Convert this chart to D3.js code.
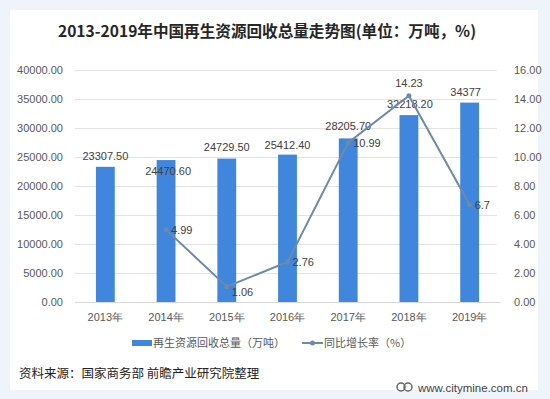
<!DOCTYPE html>
<html><head><meta charset="utf-8">
<script src="https://cdn.jsdelivr.net/npm/d3@7"></script>
<style>
html,body{margin:0;padding:0;background:#eef4fa;}
svg{display:block;font-family:"Noto Sans CJK SC","Microsoft YaHei",sans-serif;}
</style></head>
<body><svg id="c" width="550" height="399"></svg>
<script>
const years = ["2013年","2014年","2015年","2016年","2017年","2018年","2019年"];
const volume = [23307.50,24470.60,24729.50,25412.40,28205.70,32218.20,34377];
const volumeLabels = ["23307.50","24470.60","24729.50","25412.40","28205.70","32218.20","34377"];
const growth = [null,4.99,1.06,2.76,10.99,14.23,6.7];
const growthLabels = ["","4.99","1.06","2.76","10.99","14.23","6.7"];
const leftTicks = [0,5000,10000,15000,20000,25000,30000,35000,40000];
const rightTicks = [0,2,4,6,8,10,12,14,16];
const seriesNames = ["再生资源回收总量（万吨）","同比增长率（%）"];
const title = "2013-2019年中国再生资源回收总量走势图(单位：万吨，%)";
const source = "资料来源：国家商务部 前瞻产业研究院整理";
const site = "www.citymine.com.cn";

const svg = d3.select("#c");
svg.append("rect").attr("x",10).attr("y",10).attr("width",528).attr("height",380).attr("fill","#fff");

const x = d3.scaleBand().domain(years).range([75,500]).paddingInner(0.69).paddingOuter(0.345);
const yL = d3.scaleLinear().domain([0,40000]).range([302,70]);
const yR = d3.scaleLinear().domain([0,16]).range([302,70]);

svg.append("text").attr("x",267).attr("y",37).attr("text-anchor","middle")
  .attr("font-size",15.6).attr("font-weight","bold").attr("fill","#262626").text(title);

// gridlines
svg.append("g").selectAll("line").data(leftTicks).join("line")
  .attr("x1",75).attr("x2",497).attr("y1",d=>yL(d)+0.5).attr("y2",d=>yL(d)+0.5)
  .attr("stroke","#e3e3e3").attr("stroke-width",1);

// left axis
const gl = svg.append("g").attr("transform","translate(63,0)")
  .call(d3.axisLeft(yL).tickValues(leftTicks).tickFormat(d=>d3.format(".2f")(d)).tickSize(0).tickPadding(0));
gl.select(".domain").remove();
gl.selectAll("text").attr("font-size",11).attr("fill","#595959").attr("font-family","Liberation Sans, Arial, sans-serif");

// right axis
const gr = svg.append("g").attr("transform","translate(514,0)")
  .call(d3.axisRight(yR).tickValues(rightTicks).tickFormat(d=>d3.format(".2f")(d)).tickSize(0).tickPadding(0));
gr.select(".domain").remove();
gr.selectAll("text").attr("font-size",11).attr("fill","#595959").attr("font-family","Liberation Sans, Arial, sans-serif");

// x axis
const gx = svg.append("g").attr("transform","translate(0,302)")
  .call(d3.axisBottom(x).tickSize(0).tickPadding(11));
gx.select(".domain").attr("stroke","#d9d9d9");
gx.selectAll("text").attr("font-size",11).attr("fill","#595959");

// bars
svg.append("g").selectAll("rect").data(volume).join("rect")
  .attr("x",(d,i)=>x(years[i])).attr("width",x.bandwidth())
  .attr("y",d=>yL(d)).attr("height",d=>yL(0)-yL(d)).attr("fill","#3f86dc");

// bar labels
const blOff = [[0,-7],[2,15],[0,-8],[0,-6],[0,-8],[1,-7],[-4,-7]];
svg.append("g").selectAll("text").data(volume).join("text")
  .attr("x",(d,i)=>x(years[i])+x.bandwidth()/2+blOff[i][0])
  .attr("y",(d,i)=>yL(d)+blOff[i][1])
  .attr("text-anchor","middle").attr("font-size",11).attr("fill","#404040")
  .attr("font-family","Liberation Sans, Arial, sans-serif")
  .text((d,i)=>volumeLabels[i]);

// line
const pts = growth.map((g,i)=>({g,i})).filter(p=>p.g!==null);
const line = d3.line().x(p=>x(years[p.i])+x.bandwidth()/2).y(p=>yR(p.g));
svg.append("path").datum(pts).attr("d",line).attr("fill","none").attr("stroke","#6d8aa8").attr("stroke-width",2);
svg.append("g").selectAll("circle").data(pts).join("circle")
  .attr("cx",p=>x(years[p.i])+x.bandwidth()/2).attr("cy",p=>yR(p.g)).attr("r",2.5).attr("fill","#6d8aa8");
const glOff = {1:[5,4,"start"],2:[5,9,"start"],3:[5,4,"start"],4:[5,4,"start"],5:[0,-9,"middle"],6:[5,4,"start"]};
svg.append("g").selectAll("text").data(pts).join("text")
  .attr("x",p=>x(years[p.i])+x.bandwidth()/2+glOff[p.i][0])
  .attr("y",p=>yR(p.g)+glOff[p.i][1])
  .attr("text-anchor",p=>glOff[p.i][2]).attr("font-size",11).attr("fill","#404040")
  .attr("font-family","Liberation Sans, Arial, sans-serif")
  .text(p=>growthLabels[p.i]);

// legend
const lg = svg.append("g").attr("transform","translate(0,343)");
lg.append("rect").attr("x",132).attr("y",-3).attr("width",20).attr("height",6).attr("fill","#3f86dc");
lg.append("text").attr("x",153).attr("y",4).attr("font-size",11).attr("fill","#595959").text(seriesNames[0]);
lg.append("line").attr("x1",302).attr("x2",323).attr("y1",0).attr("y2",0).attr("stroke","#6d8aa8").attr("stroke-width",2);
lg.append("circle").attr("cx",312.5).attr("cy",0).attr("r",2.5).attr("fill","#6d8aa8");
lg.append("text").attr("x",324).attr("y",4).attr("font-size",11).attr("fill","#595959").text(seriesNames[1]);

// source
svg.append("text").attr("x",19).attr("y",378).attr("font-size",12.5).attr("fill","#222").text(source);
// site
svg.append("circle").attr("cx",401).attr("cy",387).attr("r",4).attr("fill","none").attr("stroke","#666").attr("stroke-width",1.5);
svg.append("circle").attr("cx",408).attr("cy",387).attr("r",4).attr("fill","none").attr("stroke","#666").attr("stroke-width",1.5);
svg.append("text").attr("x",418).attr("y",392).attr("font-size",11.5).attr("fill","#444")
  .attr("font-family","Liberation Sans, Arial, sans-serif").text(site);
</script></body></html>
